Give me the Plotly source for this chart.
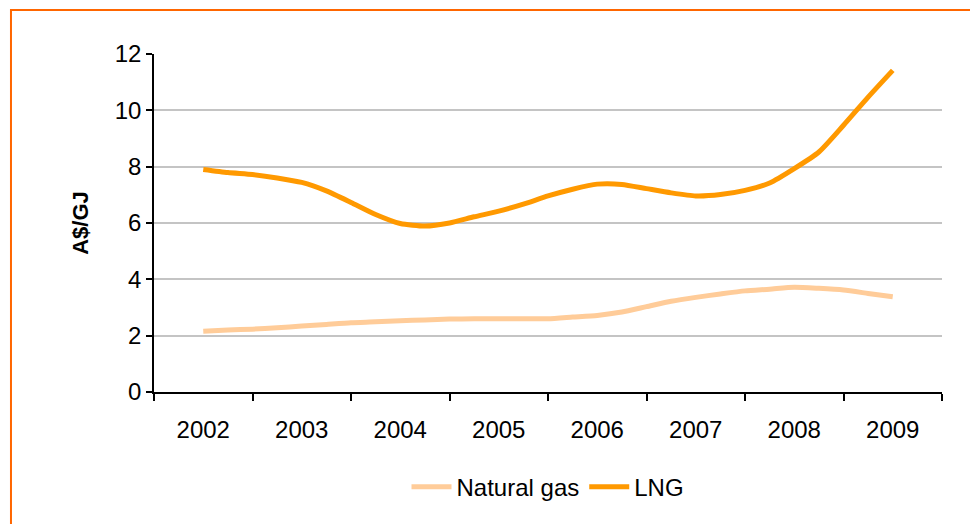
import plotly.graph_objects as go

# quarterly readings, 2002 to 2009 (A$/GJ)
periods = [2002 + q / 4 for q in range(29)]
lng = [7.90, 7.79, 7.72, 7.60, 7.44, 7.14, 6.73, 6.30, 5.98, 5.89,
       6.00, 6.22, 6.42, 6.67, 6.96, 7.20, 7.38, 7.37, 7.22, 7.07,
       6.96, 7.01, 7.16, 7.42, 7.93, 8.52, 9.47, 10.47, 11.42]
natural_gas = [2.16, 2.20, 2.23, 2.28, 2.34, 2.40, 2.46, 2.49, 2.53, 2.56,
               2.59, 2.60, 2.60, 2.60, 2.60, 2.66, 2.72, 2.84, 3.03, 3.22,
               3.36, 3.48, 3.59, 3.65, 3.72, 3.68, 3.62, 3.50, 3.38]
years = list(range(2002, 2010))
year_labels = [str(y) for y in years]
y_ticks = [0, 2, 4, 6, 8, 10, 12]

FONT = "Liberation Sans, Arial, sans-serif"

fig = go.Figure()
fig.add_trace(go.Scatter(x=periods, y=natural_gas, name="Natural gas", mode="lines",
                         line=dict(color="#FFCC99", width=5, shape="spline", smoothing=0.6)))
fig.add_trace(go.Scatter(x=periods, y=lng, name="LNG", mode="lines",
                         line=dict(color="#FF9900", width=5, shape="spline", smoothing=0.6)))

# orange frame round the whole chart
fig.add_shape(type="rect", xref="paper", yref="paper",
              x0=-0.1815, x1=1.0393, y0=-0.41, y1=1.130,
              line=dict(color="#FF6600", width=2), fillcolor="rgba(0,0,0,0)", layer="below")

fig.update_layout(
    width=978, height=524,
    margin=dict(l=146, r=44, t=46, b=140),
    paper_bgcolor="white", plot_bgcolor="white",
    font=dict(family=FONT, size=24, color="black"),
    showlegend=True,
    legend=dict(orientation="h", x=0.5, xanchor="center", y=-0.215, yanchor="top",
                font=dict(size=24), itemwidth=40, tracegroupgap=0),
    xaxis=dict(
        range=[2001.5, 2009.5],
        tickmode="array", tickvals=years, ticktext=year_labels,
        ticks="outside", ticklen=15, tickcolor="rgba(0,0,0,0)",
        minor=dict(tickmode="array", tickvals=[y + 0.5 for y in range(2001, 2010)],
                   ticks="outside", ticklen=7, tickcolor="black", tickwidth=1.5,
                   showgrid=False),
        showline=True, linecolor="black", linewidth=1.5,
        showgrid=False, zeroline=False,
    ),
    yaxis=dict(
        range=[0, 12],
        tickmode="array", tickvals=y_ticks,
        ticks="outside", ticklen=6, tickcolor="black", tickwidth=1.5,
        showline=True, linecolor="black", linewidth=1.5,
        showgrid=True, gridcolor="#C4C4C4", gridwidth=1.5, zeroline=False,
        title=dict(text="<b>A$/GJ</b>", font=dict(size=22), standoff=20),
    ),
)

fig.write_html("out.html")
